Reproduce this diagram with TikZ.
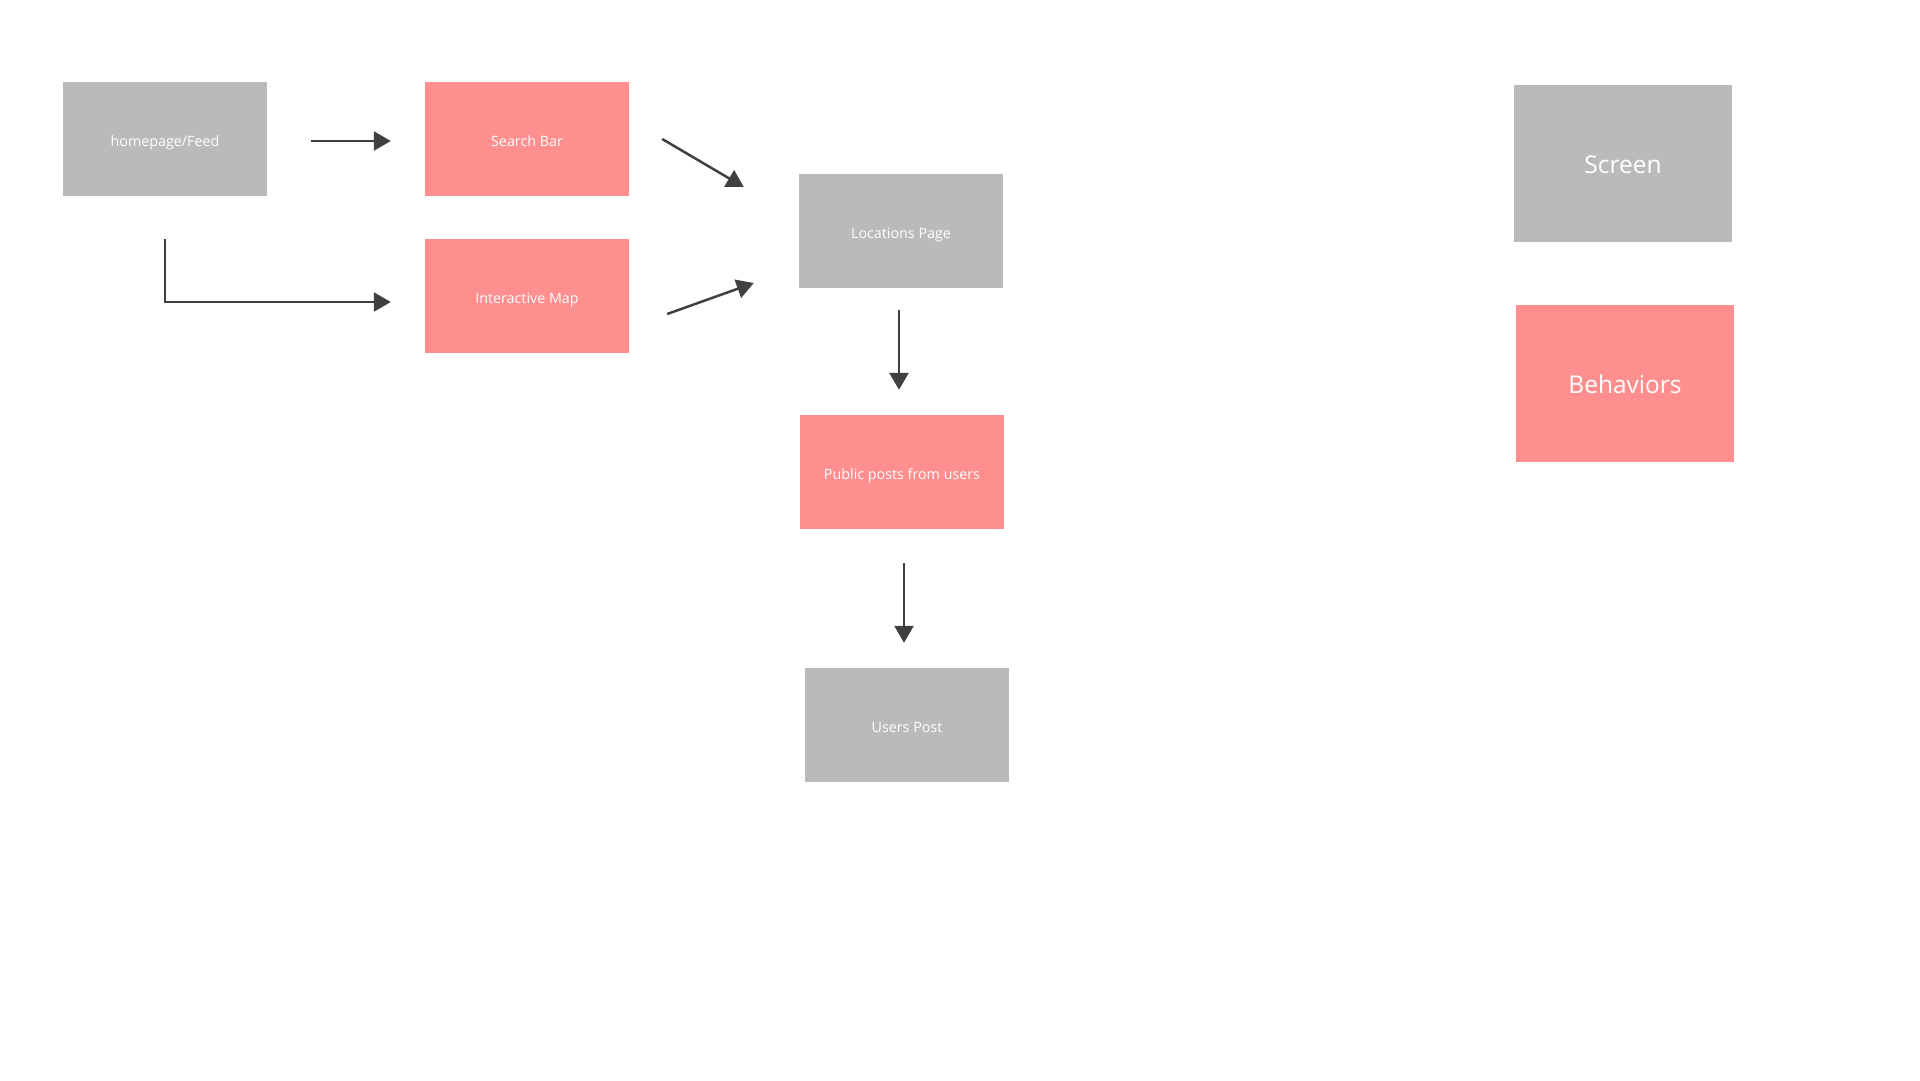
\documentclass[tikz,border=0pt]{standalone}
\usepackage{fontspec}
\setmainfont{Open Sans}
\usetikzlibrary{positioning, arrows.meta}
\definecolor{screengray}{HTML}{BABABA}
\definecolor{behavpink}{HTML}{FF8E8E}
\definecolor{arrowgray}{HTML}{404040}
\begin{document}
\begin{tikzpicture}[x=1pt,y=-1pt,
    screen/.style={fill=screengray,text=white,minimum width=204pt,minimum height=114pt,inner sep=0pt,text height=14pt,text depth=0pt,font=\fontsize{14.3}{16}\selectfont},
    behav/.style={screen,fill=behavpink},
    legend/.style={minimum width=218pt,minimum height=157pt,text height=19.6pt,font=\fontsize{24.5}{30}\selectfont},
    flow/.style={draw=arrowgray,line width=2.5pt,-{Triangle[length=17pt,width=19pt]}}]
            \useasboundingbox (0,0) rectangle (1920,1080);
            \node[screen] (home) at (165,139) {homepage/Feed};
            \node[behav] (search) at (527,139) {Search Bar};
            \node[behav] (map) at (527,296) {Interactive Map};
            \node[screen] (locs) at (901,231) {Locations Page};
            \node[behav] (public) at (902,472) {Public posts from users};
            \node[screen] (users) at (907,725) {Users Post};
            \node[screen,legend] (legscreen) at (1623,163.5) {Screen};
            \node[behav,legend] (legbehav) at (1625,383.5) {Behaviors};
            \draw[flow] ([xshift=44pt,yshift=-2pt]home.east)--([xshift=-34pt,yshift=-2pt]search.west);
            \draw[flow] ([yshift=-43pt]home.south)|-([xshift=-34pt,yshift=-6pt]map.west);
            \draw[flow] ([xshift=33pt]search.east)--([xshift=-55pt,yshift=44pt]locs.west);
            \draw[flow] ([xshift=38pt,yshift=-18pt]map.east)--([xshift=-45pt,yshift=-52pt]locs.west);
            \draw[flow] ([xshift=-2pt,yshift=-22pt]locs.south)--([xshift=-3pt,yshift=25pt]public.north);
            \draw[flow] ([xshift=2pt,yshift=-34pt]public.south)--([xshift=-3pt,yshift=25pt]users.north);
        \end{tikzpicture}
\end{document}
